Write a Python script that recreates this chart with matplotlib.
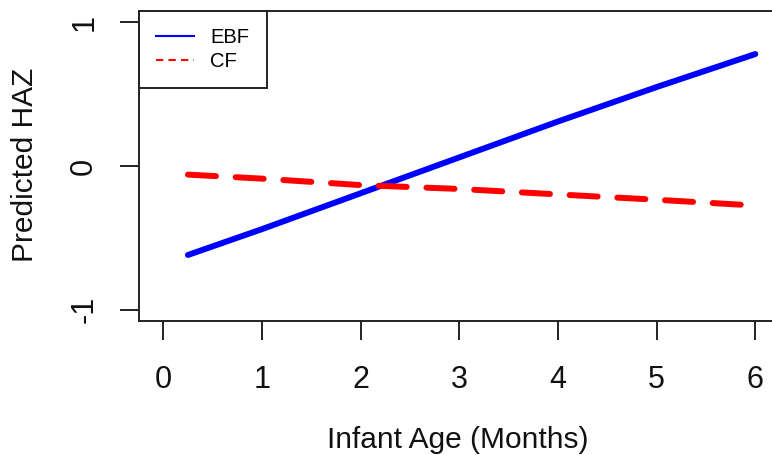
import matplotlib
matplotlib.use("Agg")
import matplotlib.pyplot as plt
from matplotlib.lines import Line2D

plt.rcParams['font.family'] = ['Liberation Sans', 'DejaVu Sans']

# data
ebf_x = [0.25, 1, 2, 3, 4, 5, 6]
ebf_y = [-0.62, -0.44, -0.19, 0.06, 0.31, 0.55, 0.78]
cf_x = [0.25, 1, 2, 3, 4, 5, 5.86]
cf_y = [-0.06, -0.088, -0.133, -0.16, -0.198, -0.235, -0.27]
x_ticks = [0, 1, 2, 3, 4, 5, 6]
y_ticks = [-1, 0, 1]
y_ticklabels = ["-1", "0", "1"]
labels = ["EBF", "CF"]

fig = plt.figure(figsize=(7.72, 4.55), dpi=100)
ax = fig.add_axes([139/772, 1-321/455, (776-139)/772, (321-11)/455])

ax.plot(ebf_x, ebf_y, color='#0000ff', lw=4.3, solid_capstyle='round')
ax.plot(cf_x, cf_y, color='#ff0000', lw=4.3, ls=(0, (4.7, 3.3)), dash_capstyle='round')

ax.set_xlim(-0.246, 6.21)
ax.set_ylim(-1.08, 1.08)
ax.set_xticks(x_ticks)
ax.set_yticks(y_ticks)
ax.set_yticklabels(y_ticklabels, rotation=90, va='center')

for s in ax.spines.values():
    s.set_linewidth(1.4)
    s.set_color('#222222')
ax.tick_params(axis='both', direction='out', length=13.7, width=1.4, color='#222222',
               labelsize=22, labelcolor='#111111')
ax.tick_params(axis='x', pad=18)
ax.tick_params(axis='y', pad=15)

ax.set_xlabel("Infant Age (Months)", fontsize=21.5, color='#111111')
ax.xaxis.label.set_va('baseline')
ax.xaxis.set_label_coords(457.5/772, 1-448/455, transform=fig.transFigure)
ax.set_ylabel("Predicted HAZ", fontsize=21.5, color='#111111')
ax.yaxis.label.set_va('baseline')
ax.yaxis.set_label_coords(33/772, 1-165/455, transform=fig.transFigure)

handles = [Line2D([], [], color='#0000ff', lw=1.5),
           Line2D([], [], color='#ff0000', lw=1.5, ls=(0, (3.5, 2.5)))]
leg = ax.legend(handles, labels, loc='upper left', bbox_to_anchor=(0, 1),
                borderaxespad=0, fancybox=False, framealpha=1, edgecolor='#222222',
                fontsize=14.5, handlelength=1.9, handletextpad=0.8, borderpad=0.85,
                labelspacing=0.25)
leg.get_frame().set_linewidth(1.4)

fig.savefig("out.png", dpi=100)
